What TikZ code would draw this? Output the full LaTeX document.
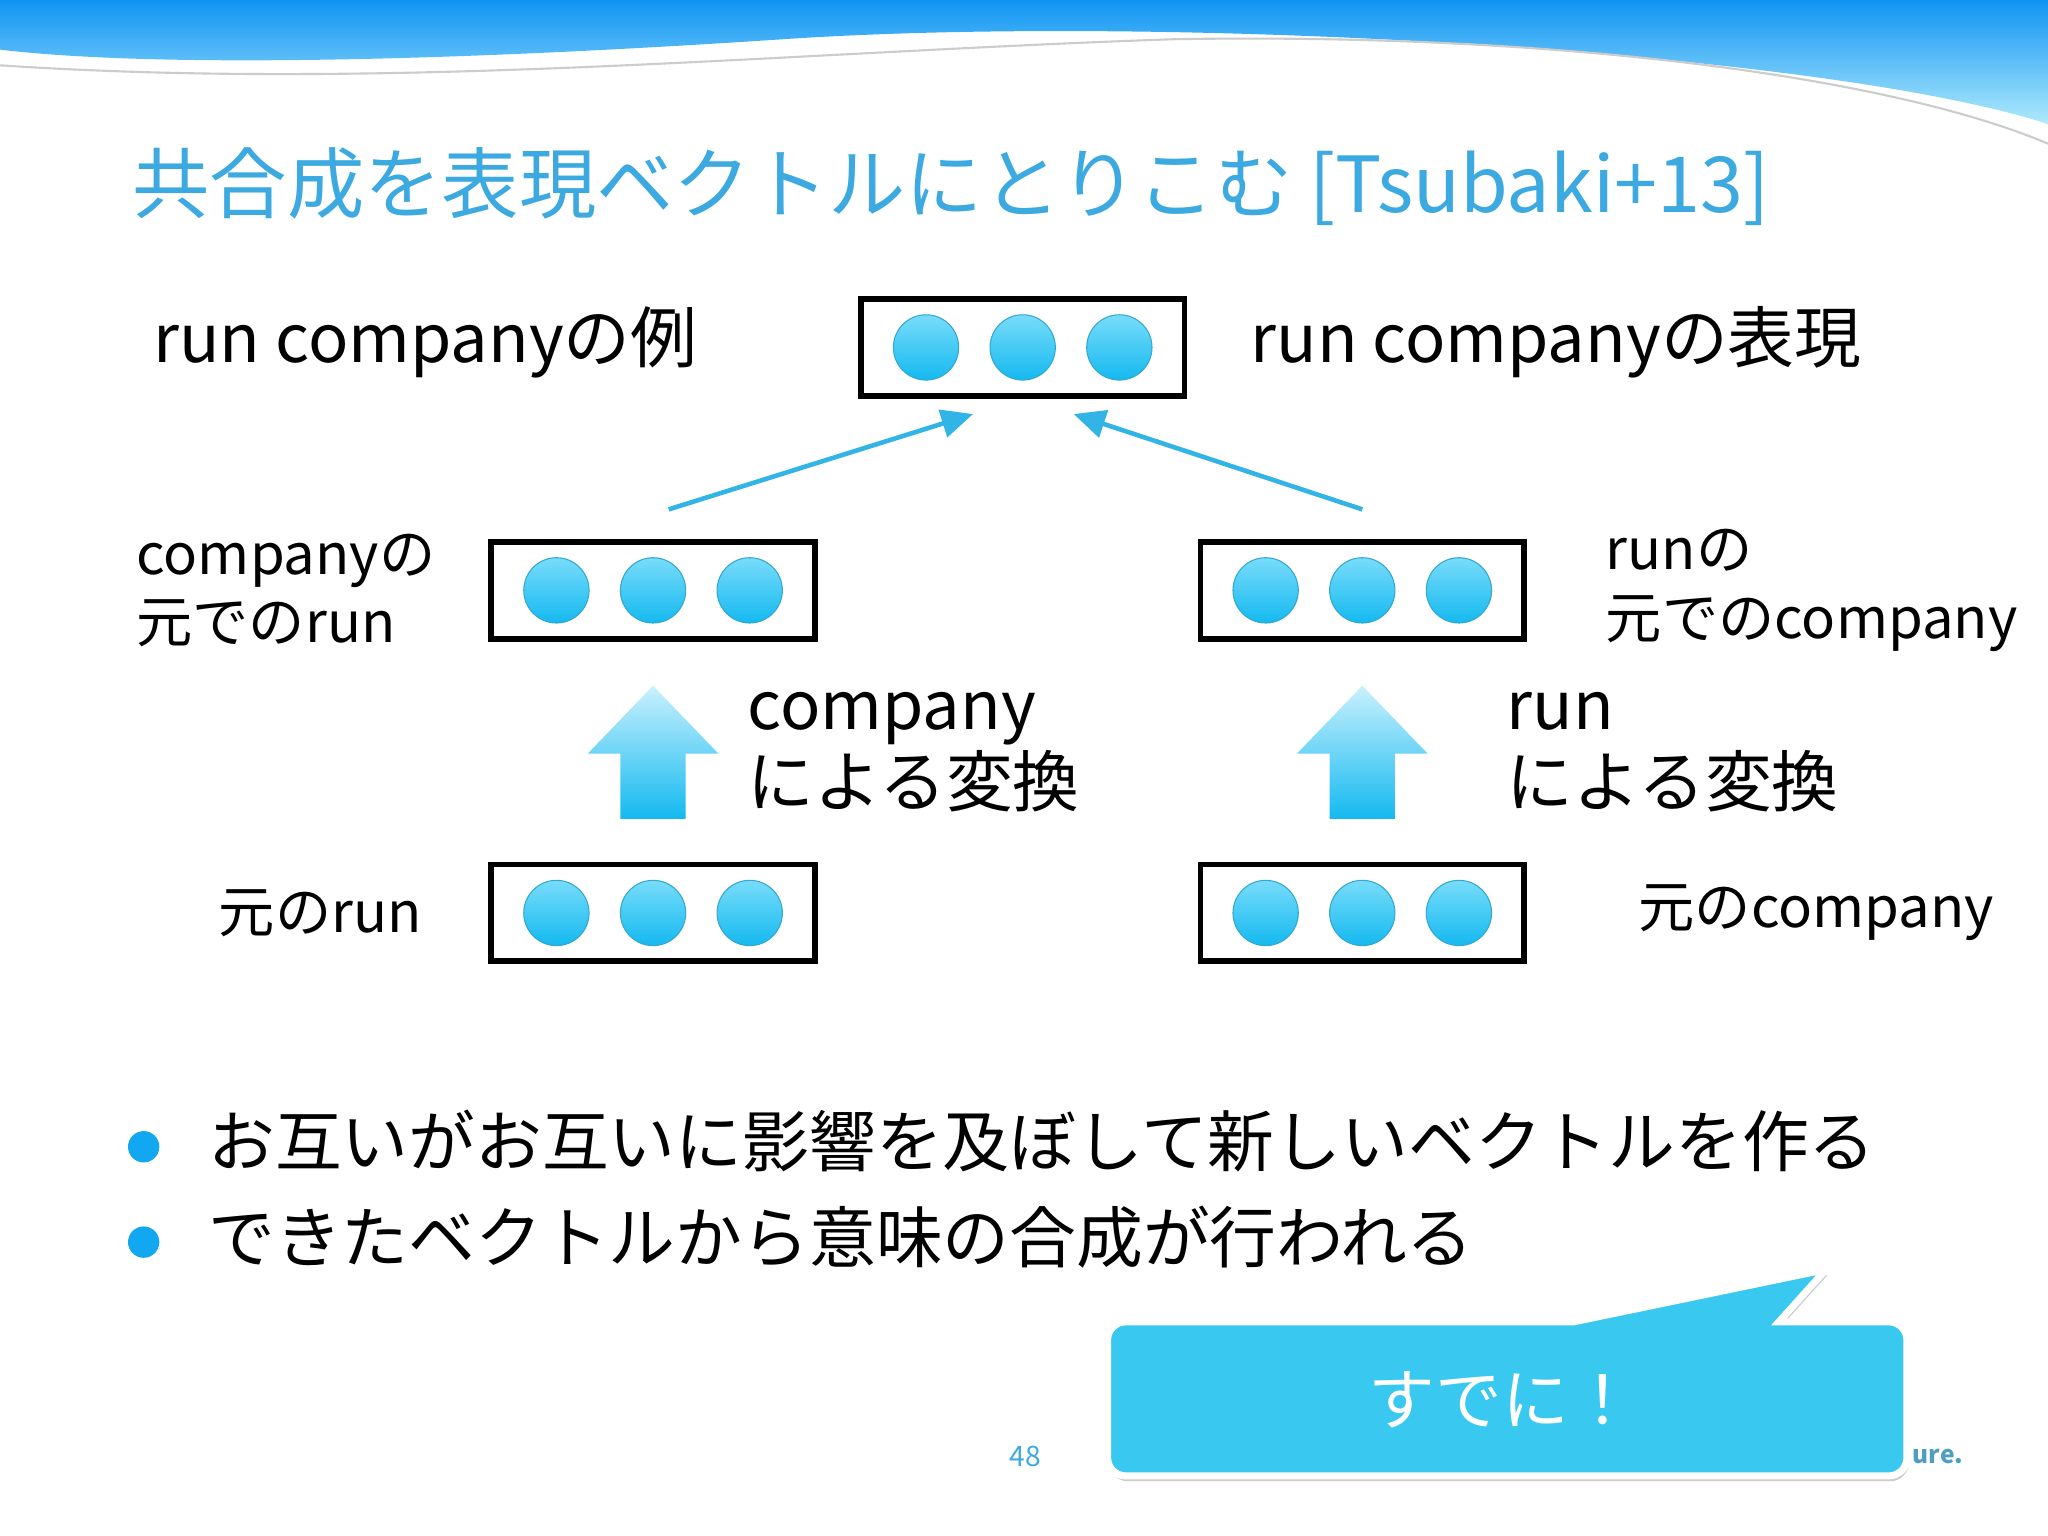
\documentclass[tikz,border=0pt]{standalone}
\usepackage{fontspec}
\setmainfont{Noto Sans CJK JP}
\usetikzlibrary{shadows,arrows.meta}
\definecolor{ttl}{RGB}{60,170,225}
\definecolor{lb}{RGB}{120,220,250}
\definecolor{db}{RGB}{20,185,240}
\definecolor{ln}{RGB}{50,180,230}
\definecolor{cal}{RGB}{56,200,240}
\begin{document}
\begin{tikzpicture}[x=0.01306cm,y=-0.01306cm,
  box/.style={draw=black,line width=1.6pt,minimum width=248*0.01306cm,minimum height=74*0.01306cm,inner sep=0},
  ball/.style={circle,minimum size=50*0.01306cm,inner sep=0,top color=lb,bottom color=db,draw=db!70!gray,line width=0.3pt},
  lbl/.style={font=\fontsize{19}{24}\selectfont,anchor=west,align=left},
  thin/.style={draw=ln,line width=1.3pt,-{Stealth[length=9pt,width=8pt,inset=0pt]}},
  blk/.style={top color=lb!40!white,bottom color=db,draw=none}]
\useasboundingbox (0,0) rectangle (1568,1176);
\fill[white] (0,0) rectangle (1568,1176);
% top wave
\shade[top color=db!80!blue,bottom color=lb!60!white] (0,0) -- (1568,0) -- (1568,95) .. controls (1400,40) and (900,10) .. (600,30) .. controls (300,50) and (100,50) .. (0,38) -- cycle;
\draw[gray!40,line width=0.6pt] (0,50) .. controls (300,70) and (600,40) .. (900,30) .. controls (1200,25) and (1450,60) .. (1568,110);
\node[anchor=west,text=ttl,font=\fontsize{22}{26}\selectfont] (title) at (92,143) {共合成を表現ベクトルにとりこむ [Tsubaki+13]};
% boxes
\node[box] (top) at (783,266) {};
\node[box] (ml) at (500,452) {};
\node[box] (mr) at (1043,452) {};
\node[box] (bl) at (500,699) {};
\node[box] (br) at (1043,699) {};
\foreach \b/\cx/\cy in {t/783/266,a/500/452,b/1043/452,c/500/699,d/1043/699}{
  \node[ball] (\b1) at (\cx-74,\cy) {};
  \node[ball] (\b2) at (\cx,\cy) {};
  \node[ball] (\b3) at (\cx+74,\cy) {};}
\coordinate (s1) at (512,390); \coordinate (e1) at (745,317);
\coordinate (s2) at (1043,390); \coordinate (e2) at (822,317);
\draw[thin] (s1) -- (e1);
\draw[thin] (s2) -- (e2);
% block arrows
\foreach \cx in {500,1043}{
\shade[blk] (\cx-25,627) -- (\cx-25,577) -- (\cx-50,577) -- (\cx,525) -- (\cx+50,577) -- (\cx+25,577) -- (\cx+25,627) -- cycle;}
% labels
\node[lbl] (l1) at (108,262) {run companyの例};
\node[lbl] (l2) at (948,262) {run companyの表現};
\node[lbl,font=\fontsize{16}{19.5}\selectfont] (l3) at (95,452) {companyの\\元でのrun};
\node[lbl,font=\fontsize{16}{19.5}\selectfont] (l4) at (1220,452) {runの\\元でのcompany};
\node[lbl,font=\fontsize{16}{19.5}\selectfont] (l5) at (158,699) {元のrun};
\node[lbl,font=\fontsize{16}{19.5}\selectfont] (l6) at (1245,699) {元のcompany};
\node[lbl,font=\fontsize{19}{22}\selectfont] (l7) at (563,576) {company\\による変換};
\node[lbl,font=\fontsize{19}{22}\selectfont] (l8) at (1144,576) {run\\による変換};
% bullets
\fill[db!90!blue] (110,878) circle (12);
\fill[db!90!blue] (110,951) circle (12);
\node[lbl] (b1t) at (150,874) {お互いがお互いに影響を及ぼして新しいベクトルを作る};
\node[lbl] (b2t) at (150,947) {できたベクトルから意味の合成が行われる};
\node[text=ttl,font=\fontsize{8}{10}\selectfont] (pg) at (785,1115) {48};
\node[text=ttl!70!gray,font=\bfseries\fontsize{7}{9}\selectfont,anchor=west] (logo) at (1455,1115) {ure.};
% callout
\fill[cal,draw=white,line width=2pt,drop shadow={shadow xshift=0.5pt,shadow yshift=-1.5pt,opacity=0.4}]
  (862,1012) -- (1205,1012) -- (1398,972) -- (1362,1012) -- (1446,1012) arc (-90:0:14) -- (1460,1116) arc (0:90:14) -- (862,1130) arc (90:180:14) -- (848,1026) arc (180:270:14) -- cycle;
\node[text=white,font=\fontsize{19}{22}\selectfont] (cl) at (1150,1072) {すでに！};
\end{tikzpicture}
\end{document}
